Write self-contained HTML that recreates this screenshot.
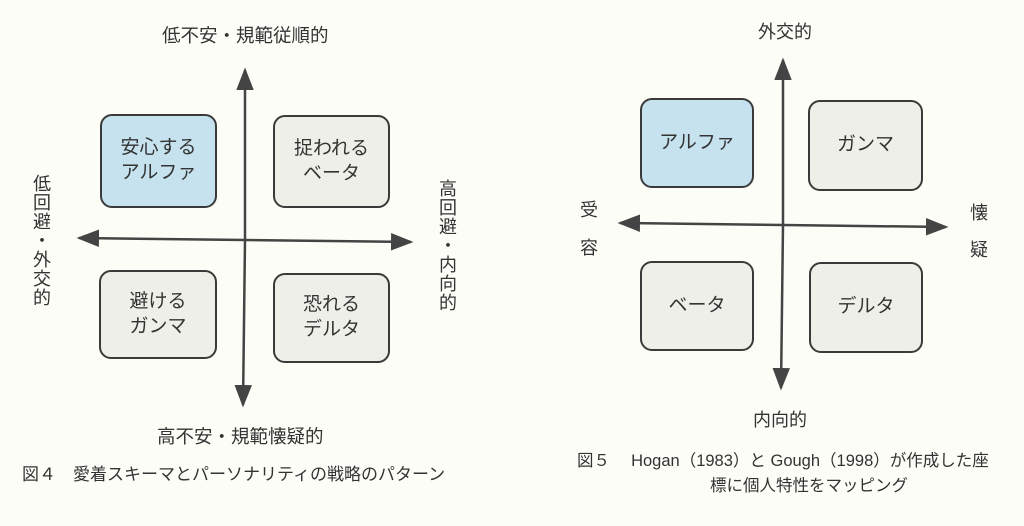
<!DOCTYPE html>
<html><head><meta charset="utf-8"><style>
body{margin:0;width:1024px;height:526px;background:#fdfdf8;position:relative;overflow:hidden;font-family:"Liberation Sans","Noto Sans CJK JP",sans-serif;color:#333}
.t{position:absolute;white-space:nowrap;line-height:1}
.b{position:absolute;border:2px solid #3a3a3a;border-radius:12px;background:#efefe9;display:flex;align-items:center;justify-content:center;text-align:center;font-size:19px;line-height:1.3;color:#333;box-sizing:border-box}
.a{background:#c5e2ee}
.v{position:absolute;font-size:18px;line-height:19px;width:20px;text-align:center}
</style></head><body>
<svg width="1024" height="526" style="position:absolute;left:0;top:0">
<defs><marker id="m" markerWidth="9" markerHeight="7" refX="8" refY="3.5" orient="auto" markerUnits="strokeWidth"><path d="M0,0 L9,3.5 L0,7 Z" fill="#444"/></marker></defs>
<g stroke="#444" stroke-width="2.5" fill="none">
<line x1="245" y1="240" x2="245" y2="70" marker-end="url(#m)"/>
<line x1="245" y1="240" x2="243" y2="405" marker-end="url(#m)"/>
<line x1="245" y1="240" x2="79" y2="238" marker-end="url(#m)"/>
<line x1="245" y1="240" x2="411" y2="242" marker-end="url(#m)"/>
<line x1="783" y1="225" x2="783" y2="60" marker-end="url(#m)"/>
<line x1="783" y1="225" x2="781" y2="388" marker-end="url(#m)"/>
<line x1="783" y1="225" x2="620" y2="223" marker-end="url(#m)"/>
<line x1="783" y1="225" x2="946" y2="227" marker-end="url(#m)"/>
</g></svg>
<div class="t" style="left:162px;top:27px;font-size:18.5px">低不安・規範従順的</div>
<div class="t" style="left:157px;top:428px;font-size:18.5px">高不安・規範懐疑的</div>
<div class="t" style="left:22px;top:466px;font-size:17px">図４　愛着スキーマとパーソナリティの戦略のパターン</div>
<div class="v" style="left:32px;top:175px">低<br>回<br>避<br>・<br>外<br>交<br>的</div>
<div class="v" style="left:438px;top:180px">高<br>回<br>避<br>・<br>内<br>向<br>的</div>
<div class="b a" style="left:100px;top:114px;width:117px;height:94px">安心する<br>アルファ</div>
<div class="b" style="left:273px;top:115px;width:117px;height:93px">捉われる<br>ベータ</div>
<div class="b" style="left:99px;top:270px;width:118px;height:89px">避ける<br>ガンマ</div>
<div class="b" style="left:273px;top:273px;width:117px;height:90px">恐れる<br>デルタ</div>
<div class="t" style="left:758px;top:23px;font-size:18px">外交的</div>
<div class="t" style="left:753px;top:411px;font-size:18px">内向的</div>
<div class="t" style="left:580px;top:201px;font-size:18px">受</div>
<div class="t" style="left:580px;top:239px;font-size:18px">容</div>
<div class="t" style="left:970px;top:204px;font-size:18px">懐</div>
<div class="t" style="left:970px;top:241px;font-size:18px">疑</div>
<div class="b a" style="left:640px;top:98px;width:114px;height:90px">アルファ</div>
<div class="b" style="left:808px;top:100px;width:115px;height:91px">ガンマ</div>
<div class="b" style="left:640px;top:261px;width:114px;height:90px">ベータ</div>
<div class="b" style="left:809px;top:262px;width:114px;height:91px">デルタ</div>
<div class="t" style="left:577px;top:453px;font-size:16.5px">図５　 Hogan（1983）と Gough（1998）が作成した座</div>
<div class="t" style="left:710px;top:478px;font-size:16.5px">標に個人特性をマッピング</div>
</body></html>
